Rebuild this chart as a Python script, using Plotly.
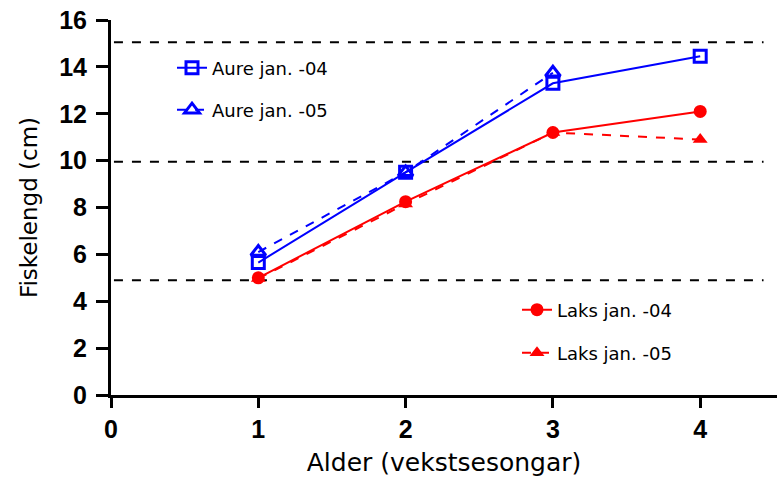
import plotly.graph_objects as go

ages = [1, 2, 3, 4]
aure_04 = [5.65, 9.5, 13.3, 14.45]
aure_05_x = [1, 2, 3]
aure_05 = [6.1, 9.5, 13.75]
laks_04 = [5.0, 8.25, 11.2, 12.1]
laks_05 = [4.97, 8.15, 11.2, 10.9]
ref_levels = [15.05, 9.95, 4.9]

x_ticks = [0, 1, 2, 3, 4]
y_ticks = [0, 2, 4, 6, 8, 10, 12, 14, 16]

BLUE = "#0000FF"
RED = "#FF0000"
FONT = "Liberation Sans, Arial, sans-serif"
FONT2 = "DejaVu Sans, Liberation Sans, sans-serif"

fig = go.Figure()

fig.add_trace(go.Scatter(
    x=ages, y=aure_04, name="Aure jan. -04", mode="lines+markers",
    line=dict(color=BLUE, width=2),
    marker=dict(symbol="square-open", size=12, color=BLUE, line=dict(width=3, color=BLUE)),
    legend="legend"))
fig.add_trace(go.Scatter(
    x=aure_05_x, y=aure_05, name="Aure jan. -05", mode="lines+markers",
    line=dict(color=BLUE, width=2, dash="dash"),
    marker=dict(symbol="triangle-up-open", size=13, color=BLUE, line=dict(width=3, color=BLUE)),
    legend="legend2"))
fig.add_trace(go.Scatter(
    x=ages, y=laks_04, name="Laks jan. -04", mode="lines+markers",
    line=dict(color=RED, width=2),
    marker=dict(symbol="circle", size=13, color=RED),
    legend="legend3"))
fig.add_trace(go.Scatter(
    x=ages, y=laks_05, name="Laks jan. -05", mode="lines+markers",
    line=dict(color=RED, width=2, dash="dash"),
    marker=dict(symbol="triangle-up", size=13, color=RED),
    legend="legend4"))

for lv in ref_levels:
    fig.add_shape(type="line", xref="x", yref="y", x0=0.02, x1=4.43, y0=lv, y1=lv,
                  line=dict(color="black", width=2, dash="dash"), layer="below")

W, H = 777, 483
ml, mr, mt, mb = 111, 0, 20, 88
pw = W - ml - mr
ph = H - mt - mb


def px2paper(px, py):
    return (px - ml) / pw, (H - mb - py) / ph


leg_common = dict(font=dict(family=FONT2, size=18, color="black"), bgcolor="rgba(0,0,0,0)",
                  xanchor="left", yanchor="middle", borderwidth=0)
lx1, ly1 = px2paper(172, 68)
lx2, ly2 = px2paper(172, 110)
lx3, ly3 = px2paper(517, 310)
lx4, ly4 = px2paper(517, 353)

fig.update_layout(
    width=W, height=H,
    margin=dict(l=ml, r=mr, t=mt, b=mb),
    paper_bgcolor="white", plot_bgcolor="white",
    font=dict(family=FONT, color="black"),
    showlegend=True,
    legend=dict(x=lx1, y=ly1, **leg_common),
    legend2=dict(x=lx2, y=ly2, **leg_common),
    legend3=dict(x=lx3, y=ly3, **leg_common),
    legend4=dict(x=lx4, y=ly4, **leg_common),
    xaxis=dict(range=[0, pw / 147.3], tickvals=x_ticks, ticktext=[str(v) for v in x_ticks],
               showgrid=False, zeroline=False, showline=True, linewidth=3, linecolor="black",
               ticks="outside", ticklen=10, tickwidth=3, tickcolor="black",
               tickfont=dict(family=FONT, size=25, color="black", weight="bold"),
               title=dict(text="Alder (vekstsesongar)", font=dict(family=FONT2, size=25), standoff=12)),
    yaxis=dict(range=[0, 16], tickvals=y_ticks, ticktext=[str(v) for v in y_ticks],
               showgrid=False, zeroline=False, showline=True, linewidth=3, linecolor="black",
               ticks="outside", ticklen=12, tickwidth=3, tickcolor="black", ticklabelstandoff=4,
               tickfont=dict(family=FONT, size=25, color="black", weight="bold"),
               title=dict(text="Fiskelengd (cm)", font=dict(family=FONT2, size=23), standoff=16)),
)

fig.write_html("out.html")
